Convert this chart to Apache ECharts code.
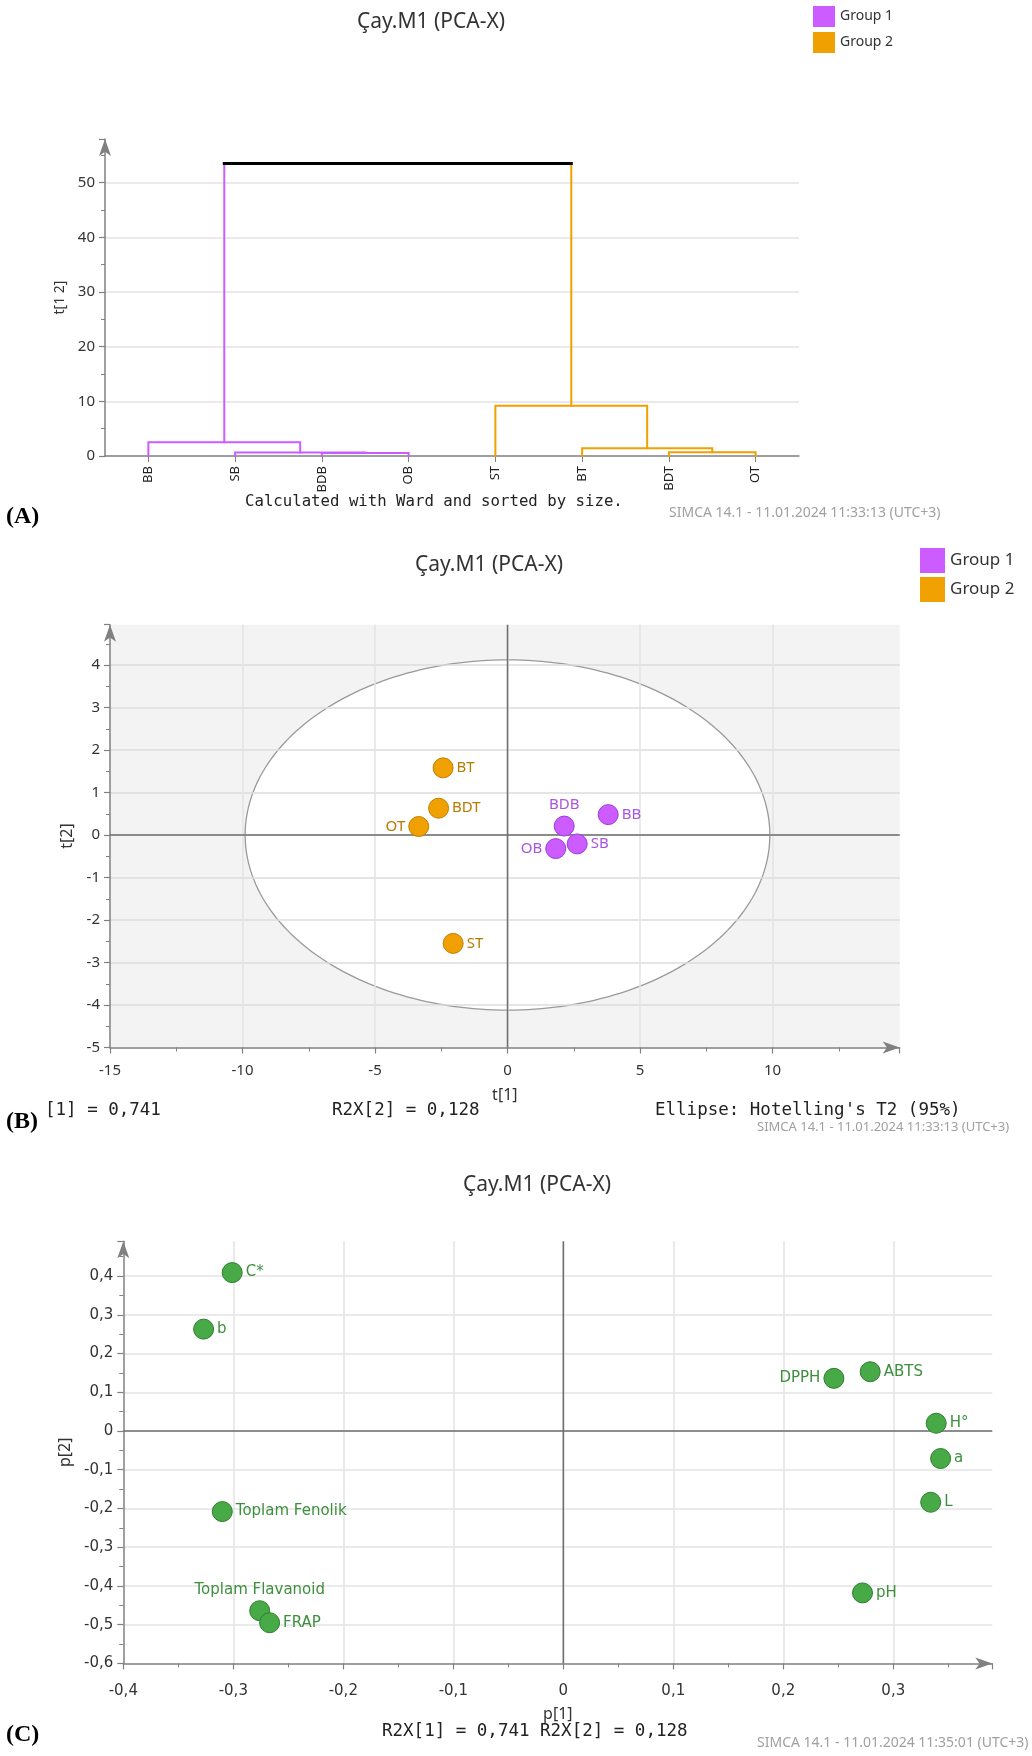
<!DOCTYPE html>
<html>
<head>
<meta charset="utf-8">
<script src="https://cdn.jsdelivr.net/npm/echarts@6/dist/echarts.min.js"></script>
<style>
html,body{margin:0;padding:0;background:#ffffff;}
#c{width:1032px;height:1756px;}
</style>
</head>
<body>
<div id="c"></div>
<script>
// ================= DATA =================
// (A) Dendrogram
const dendroLeaves = ["BB", "SB", "BDB", "OB", "ST", "BT", "BDT", "OT"];
const dendroLeafGroup = [1, 1, 1, 1, 2, 2, 2, 2];
// merges: [childA, childB, height]; child = leaf index or "cK" (K-th merge)
const dendroMerges = [
  [2, 3, 0.55],
  [1, "c0", 0.62],
  [0, "c1", 2.5],
  [6, 7, 0.68],
  [5, "c3", 1.4],
  [4, "c4", 9.2],
  ["c2", "c5", 53.5]
];

// (B) Score plot t[1] / t[2]
const g1Names = ["BDB", "BB", "SB", "OB"];
const g1T1 = [2.14, 3.80, 2.63, 1.82];
const g1T2 = [0.21, 0.48, -0.21, -0.32];
const g2Names = ["BT", "BDT", "OT", "ST"];
const g2T1 = [-2.43, -2.60, -3.35, -2.05];
const g2T2 = [1.58, 0.63, 0.20, -2.55];
const ellipseT2 = [0, 0, 9.9, 4.12]; // centre x, centre y, semi-axis t1, semi-axis t2

// (C) Loading plot p[1] / p[2]
const loadNames = ["C*", "b", "Toplam Fenolik", "Toplam Flavanoid", "FRAP", "DPPH", "ABTS", "H°", "a", "L", "pH"];
const loadP1 = [-0.301, -0.327, -0.310, -0.276, -0.267, 0.246, 0.279, 0.339, 0.343, 0.334, 0.272];
const loadP2 = [0.409, 0.263, -0.208, -0.464, -0.495, 0.136, 0.153, 0.020, -0.071, -0.184, -0.418];

// ================= STYLE =================
const FF = "'Noto Sans', sans-serif";
const PURPLE = '#cc5cff', ORANGE = '#f0a000', GREEN = '#47aa47';
const groupColor = {0: '#000000', 1: PURPLE, 2: ORANGE};
const groupBorder = {1: '#9c3fd6', 2: '#c17f00'};
const groupLabel = {1: '#a855e0', 2: '#b67a00'};
const AX = '#808080', GRIDC = '#e3e3e3';

const labelPosB = {OT: 'left', OB: 'left', BDB: 'top'};
const labelPosC = {'DPPH': 'left', 'Toplam Flavanoid': 'top'};

// axis ranges (layout)
const A_YMAX = 58;
const B_XMIN = -15, B_XMAX = 14.8, B_YMIN = -5, B_YMAX = 4.95;
const C_XMIN = -0.4, C_XMAX = 0.39, C_YMIN = -0.6, C_YMAX = 0.49;

// ================= DENDROGRAM GEOMETRY =================
const nX = [], nY = [], nG = [];
dendroLeaves.forEach((n, i) => { nX[i] = i; nY[i] = 0; nG[i] = dendroLeafGroup[i]; });
function nodeRef(c) { return typeof c === 'number' ? c : dendroLeaves.length + parseInt(c.slice(1), 10); }
const dendroSeries = [];
function segSeries(data, g) {
  return {
    type: 'line', name: g ? 'Group ' + g : 'Link', xAxisIndex: 1, yAxisIndex: 0,
    symbol: 'none', silent: true, z: 3,
    lineStyle: {color: groupColor[g], width: g ? 2 : 3, cap: 'square', join: 'miter'},
    data: data
  };
}
dendroMerges.forEach((m, k) => {
  const a = nodeRef(m[0]), b = nodeRef(m[1]), h = m[2];
  const id = dendroLeaves.length + k;
  nX[id] = (nX[a] + nX[b]) / 2; nY[id] = h;
  nG[id] = nG[a] === nG[b] ? nG[a] : 0;
  if (nG[a] === nG[id] && nG[b] === nG[id]) {
    dendroSeries.push(segSeries([[nX[a], nY[a]], [nX[a], h], [nX[b], h], [nX[b], nY[b]]], nG[id]));
  } else {
    dendroSeries.push(segSeries([[nX[a], nY[a]], [nX[a], h]], nG[a]));
    dendroSeries.push(segSeries([[nX[b], nY[b]], [nX[b], h]], nG[b]));
    dendroSeries.push(segSeries([[nX[a], h], [nX[b], h]], nG[id]));
  }
});

// ================= HELPERS =================
function comma(v) { const r = Math.round(v * 1000) / 1000; return String(r).replace('.', ','); }
function valAxis(o) {
  return Object.assign({
    type: 'value',
    axisLine: {show: true, onZero: false, lineStyle: {color: AX, width: 1.5}, symbol: ['none', 'arrow'], symbolSize: [9, 17]},
    axisTick: {show: true, length: 6, lineStyle: {color: AX, width: 1.2}},
    minorTick: {show: true, splitNumber: 2, length: 4, lineStyle: {color: AX, width: 1}},
    splitLine: {show: true, showMinLine: false, showMaxLine: false, lineStyle: {color: GRIDC, width: 1.5}},
    axisLabel: {showMaxLabel: false, color: '#333', fontSize: 15, fontFamily: FF},
    nameLocation: 'middle',
    nameTextStyle: {color: '#333', fontSize: 16, fontFamily: FF}
  }, o);
}

function scatterData(names, xs, ys, pos) {
  return names.map((n, i) => ({name: n, value: [xs[i], ys[i]], label: {position: pos[n] || 'right'}}));
}

// ================= OPTION =================
const option = {
  animation: false,
  backgroundColor: '#ffffff',
  grid: [
    {left: 105, top: 139, width: 694, height: 317, show: false, containLabel: false, outerBoundsMode: 'none'},
    {left: 110, top: 835 - B_YMAX * 42.5, width: (B_XMAX - B_XMIN) * 26.5, height: (B_YMAX - B_YMIN) * 42.5,
      show: true, backgroundColor: '#f3f3f3', borderWidth: 0, containLabel: false, outerBoundsMode: 'none'},
    {left: 123.3, top: 1431 - C_YMAX * 387.3, width: (C_XMAX - C_XMIN) * 1100, height: (C_YMAX - C_YMIN) * 387.3,
      show: false, containLabel: false, outerBoundsMode: 'none'}
  ],
  legend: [
    {left: 813, top: 6, orient: 'vertical', icon: 'rect', itemWidth: 22, itemHeight: 21, itemGap: 5, padding: 0,
      selectedMode: false, textStyle: {fontSize: 14, color: '#333', fontFamily: FF},
      data: [{name: 'Group 1', itemStyle: {color: PURPLE, borderWidth: 0}}, {name: 'Group 2', itemStyle: {color: ORANGE, borderWidth: 0}}]},
    {left: 920, top: 548, orient: 'vertical', icon: 'rect', itemWidth: 25, itemHeight: 25, itemGap: 4, padding: 0,
      selectedMode: false, textStyle: {fontSize: 17, color: '#333', fontFamily: FF},
      data: [{name: 'Group 1', itemStyle: {color: PURPLE, borderWidth: 0}}, {name: 'Group 2', itemStyle: {color: ORANGE, borderWidth: 0}}]}
  ],
  xAxis: [
    {gridIndex: 0, type: 'category', data: dendroLeaves, boundaryGap: true,
      axisLine: {show: true, lineStyle: {color: AX, width: 1.5}},
      axisTick: {show: true, alignWithLabel: true, length: 6, lineStyle: {color: AX}},
      axisLabel: {rotate: 90, margin: 10, color: '#222', fontSize: 13, fontFamily: FF},
      splitLine: {show: false}},
    {gridIndex: 0, type: 'value', min: -0.5, max: dendroLeaves.length - 0.5, show: false},
    valAxis({gridIndex: 1, min: B_XMIN, max: B_XMAX, interval: 5, z: 1,
      axisLabel: {showMaxLabel: false, color: '#333', fontSize: 15, fontFamily: FF, margin: 16},
      name: 't[1]', nameGap: 40}),
    valAxis({gridIndex: 2, min: C_XMIN, max: C_XMAX, interval: 0.1,
      axisLabel: {showMaxLabel: false, color: '#333', fontSize: 15, fontFamily: "'DejaVu Sans', sans-serif", margin: 20, formatter: comma},
      name: 'p[1]', nameGap: 43})
  ],
  yAxis: [
    valAxis({gridIndex: 0, min: 0, max: A_YMAX, interval: 10,
      minorTick: {show: true, splitNumber: 2, length: 4, lineStyle: {color: AX}},
      axisLabel: {showMaxLabel: false, color: '#333', fontSize: 15, fontFamily: FF, margin: 10},
      name: 't[1 2]', nameGap: 29, nameTextStyle: {color: '#333', fontSize: 14, fontFamily: FF}}),
    valAxis({gridIndex: 1, min: B_YMIN, max: B_YMAX, interval: 1, z: 1,
      splitLine: {show: true, showMinLine: false, showMaxLine: false, lineStyle: {color: '#dddddd', width: 1.5}},
      axisLabel: {showMaxLabel: false, color: '#333', fontSize: 15, fontFamily: FF, margin: 10},
      name: 't[2]', nameGap: 30}),
    valAxis({gridIndex: 2, min: C_YMIN, max: C_YMAX, interval: 0.1,
      axisLabel: {showMaxLabel: false, color: '#333', fontSize: 15, fontFamily: "'DejaVu Sans', sans-serif", margin: 10, formatter: comma},
      name: 'p[2]', nameGap: 41})
  ],
  graphic: [
    {type: 'text', x: 431, y: 22, style: {text: 'Çay.M1 (PCA-X)', font: "21px 'Noto Sans'", fill: '#333', textAlign: 'center', textVerticalAlign: 'middle'}},
    {type: 'text', x: 245, y: 502, style: {text: 'Calculated with Ward and sorted by size.', font: "15.7px 'DejaVu Sans Mono'", fill: '#222', textAlign: 'left', textVerticalAlign: 'middle'}},
    {type: 'text', x: 669, y: 513, style: {text: 'SIMCA 14.1 - 11.01.2024 11:33:13 (UTC+3)', font: "14px 'Noto Sans'", fill: '#a0a0a0', textAlign: 'left', textVerticalAlign: 'middle'}},
    {type: 'text', x: 6, y: 517, style: {text: '(A)', font: "bold 24px 'Liberation Serif'", fill: '#000', textAlign: 'left', textVerticalAlign: 'middle'}},

    {type: 'text', x: 489, y: 565, style: {text: 'Çay.M1 (PCA-X)', font: "21px 'Noto Sans'", fill: '#333', textAlign: 'center', textVerticalAlign: 'middle'}},
    {type: 'text', x: 45, y: 1110, style: {text: '[1] = 0,741', font: "17.5px 'DejaVu Sans Mono'", fill: '#222', textAlign: 'left', textVerticalAlign: 'middle'}},
    {type: 'text', x: 332, y: 1110, style: {text: 'R2X[2] = 0,128', font: "17.5px 'DejaVu Sans Mono'", fill: '#222', textAlign: 'left', textVerticalAlign: 'middle'}},
    {type: 'text', x: 655, y: 1110, style: {text: "Ellipse: Hotelling's T2 (95%)", font: "17.5px 'DejaVu Sans Mono'", fill: '#222', textAlign: 'left', textVerticalAlign: 'middle'}},
    {type: 'text', x: 757, y: 1127, style: {text: 'SIMCA 14.1 - 11.01.2024 11:33:13 (UTC+3)', font: "13px 'Noto Sans'", fill: '#a0a0a0', textAlign: 'left', textVerticalAlign: 'middle'}},
    {type: 'text', x: 6, y: 1122, style: {text: '(B)', font: "bold 24px 'Liberation Serif'", fill: '#000', textAlign: 'left', textVerticalAlign: 'middle'}},

    {type: 'text', x: 537, y: 1185, style: {text: 'Çay.M1 (PCA-X)', font: "21px 'Noto Sans'", fill: '#333', textAlign: 'center', textVerticalAlign: 'middle'}},
    {type: 'text', x: 382, y: 1731, style: {text: 'R2X[1] = 0,741 R2X[2] = 0,128', font: "17.5px 'DejaVu Sans Mono'", fill: '#222', textAlign: 'left', textVerticalAlign: 'middle'}},
    {type: 'text', x: 757, y: 1743, style: {text: 'SIMCA 14.1 - 11.01.2024 11:35:01 (UTC+3)', font: "14px 'Noto Sans'", fill: '#a0a0a0', textAlign: 'left', textVerticalAlign: 'middle'}},
    {type: 'text', x: 6, y: 1735, style: {text: '(C)', font: "bold 24px 'Liberation Serif'", fill: '#000', textAlign: 'left', textVerticalAlign: 'middle'}}
  ],
  series: [].concat(dendroSeries, [
    // Hotelling T2 ellipse
    {type: 'custom', xAxisIndex: 2, yAxisIndex: 1, z: 0, silent: true,
      data: [ellipseT2],
      renderItem: function (params, api) {
        const cx = api.value(0), cy = api.value(1), rx = api.value(2), ry = api.value(3);
        const pts = [];
        for (let i = 0; i <= 240; i++) {
          const t = i / 240 * 2 * Math.PI;
          pts.push(api.coord([cx + rx * Math.cos(t), cy + ry * Math.sin(t)]));
        }
        return {type: 'polygon', shape: {points: pts}, style: {fill: '#ffffff', stroke: '#9a9a9a', lineWidth: 1.3}};
      }},
    // zero lines B
    {type: 'line', xAxisIndex: 2, yAxisIndex: 1, symbol: 'none', silent: true, z: 2,
      lineStyle: {color: '#6e6e6e', width: 1.5}, data: [[B_XMIN, 0], [B_XMAX, 0]]},
    {type: 'line', xAxisIndex: 2, yAxisIndex: 1, symbol: 'none', silent: true, z: 2,
      lineStyle: {color: '#6e6e6e', width: 1.5}, data: [[0, B_YMIN], [0, B_YMAX]]},
    // zero lines C
    {type: 'line', xAxisIndex: 3, yAxisIndex: 2, symbol: 'none', silent: true, z: 2,
      lineStyle: {color: '#6e6e6e', width: 1.5}, data: [[C_XMIN, 0], [C_XMAX, 0]]},
    {type: 'line', xAxisIndex: 3, yAxisIndex: 2, symbol: 'none', silent: true, z: 2,
      lineStyle: {color: '#6e6e6e', width: 1.5}, data: [[0, C_YMIN], [0, C_YMAX]]},
    // scores
    {type: 'scatter', name: 'Group 1', xAxisIndex: 2, yAxisIndex: 1, z: 4, symbolSize: 20,
      itemStyle: {color: PURPLE, borderColor: groupBorder[1], borderWidth: 1, opacity: 1},
      label: {show: true, formatter: '{b}', color: groupLabel[1], fontSize: 15, fontFamily: FF, distance: 3},
      data: scatterData(g1Names, g1T1, g1T2, labelPosB)},
    {type: 'scatter', name: 'Group 2', xAxisIndex: 2, yAxisIndex: 1, z: 4, symbolSize: 20,
      itemStyle: {color: ORANGE, borderColor: groupBorder[2], borderWidth: 1, opacity: 1},
      label: {show: true, formatter: '{b}', color: groupLabel[2], fontSize: 15, fontFamily: FF, distance: 3},
      data: scatterData(g2Names, g2T1, g2T2, labelPosB)},
    // loadings
    {type: 'scatter', name: 'Loadings', xAxisIndex: 3, yAxisIndex: 2, z: 4, symbolSize: 20,
      itemStyle: {color: GREEN, borderColor: '#2e7d2e', borderWidth: 1, opacity: 1},
      label: {show: true, formatter: '{b}', color: '#3d8f3d', fontSize: 15, fontFamily: "'DejaVu Sans', sans-serif", distance: 3},
      data: scatterData(loadNames, loadP1, loadP2, labelPosC)}
  ])
};

const chart = echarts.init(document.getElementById('c'), null, {renderer: 'canvas', width: 1032, height: 1756});
chart.setOption(option);
</script>
</body>
</html>
